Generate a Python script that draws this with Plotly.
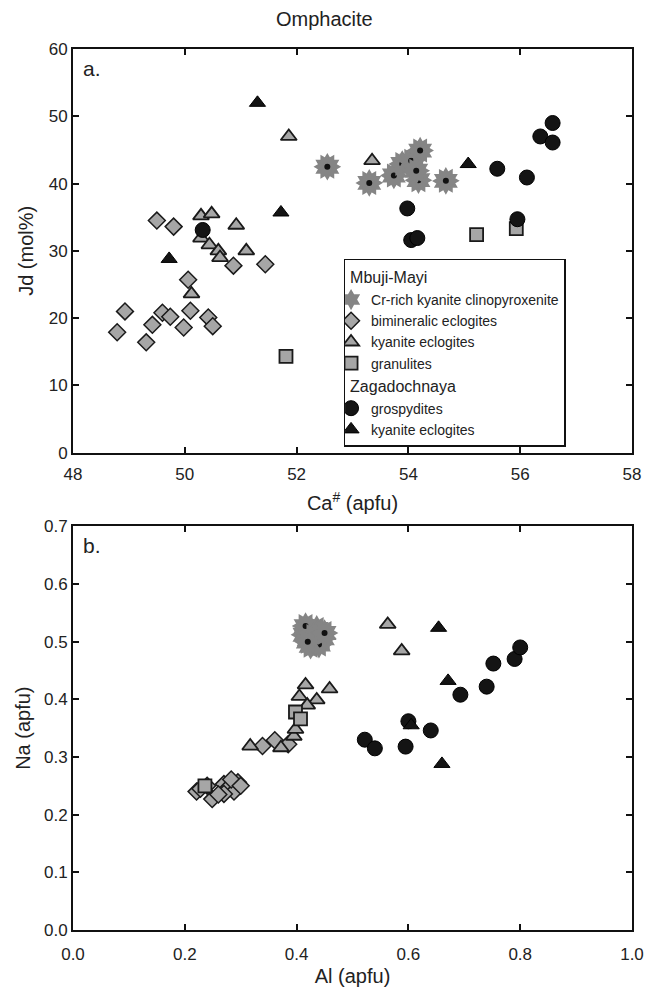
import plotly.graph_objects as go
from plotly.subplots import make_subplots

# ---------------- data: panel a (Ca#, Jd mol%) ----------------
cr_ca = [52.55, 53.30, 53.74, 53.89, 54.05, 54.21, 54.18, 54.14, 54.67]
cr_jd = [42.5, 40.1, 41.2, 42.9, 43.4, 44.9, 40.5, 41.9, 40.4]
bim_ca = [49.50, 49.80, 50.87, 51.44, 50.06, 48.93, 48.79, 49.31, 49.42, 49.60, 49.74, 49.98, 50.10, 50.42, 50.50]
bim_jd = [34.5, 33.6, 27.8, 28.0, 25.7, 21.0, 17.9, 16.4, 19.0, 20.8, 20.2, 18.6, 21.1, 20.1, 18.8]
kya_ca = [51.86, 53.35, 50.29, 50.48, 50.29, 50.44, 50.60, 50.63, 50.92, 51.10, 50.12]
kya_jd = [47.0, 43.4, 35.2, 35.5, 31.9, 30.9, 30.0, 29.0, 33.8, 30.0, 23.6]
gran_ca = [51.81, 55.22, 55.93]
gran_jd = [14.3, 32.4, 33.3]
grs_ca = [50.32, 53.98, 54.05, 54.16, 55.59, 55.95, 56.12, 56.36, 56.58, 56.58]
grs_jd = [33.1, 36.3, 31.6, 31.9, 42.2, 34.7, 40.9, 47.0, 49.0, 46.1]
zky_ca = [51.30, 51.72, 49.72, 55.07]
zky_jd = [52.0, 35.7, 28.8, 42.9]

# ---------------- data: panel b (Al, Na apfu) ----------------
cr_al = [0.414, 0.436, 0.447, 0.425, 0.416, 0.430, 0.440, 0.420, 0.450]
cr_na = [0.512, 0.522, 0.506, 0.493, 0.527, 0.510, 0.495, 0.500, 0.515]
bim_al = [0.339, 0.361, 0.385, 0.221, 0.249, 0.270, 0.274, 0.288, 0.295, 0.283, 0.270, 0.240, 0.228, 0.300, 0.260]
bim_na = [0.319, 0.329, 0.322, 0.240, 0.227, 0.253, 0.243, 0.240, 0.256, 0.261, 0.236, 0.250, 0.245, 0.250, 0.235]
kya_al = [0.563, 0.588, 0.317, 0.372, 0.395, 0.398, 0.416, 0.459, 0.405, 0.436, 0.419]
kya_na = [0.530, 0.484, 0.319, 0.316, 0.336, 0.348, 0.425, 0.418, 0.405, 0.399, 0.390]
gran_al = [0.236, 0.398, 0.407]
gran_na = [0.250, 0.378, 0.366]
grs_al = [0.522, 0.540, 0.595, 0.600, 0.640, 0.693, 0.740, 0.752, 0.790, 0.800]
grs_na = [0.330, 0.315, 0.318, 0.362, 0.346, 0.408, 0.422, 0.462, 0.470, 0.490]
zky_al = [0.654, 0.671, 0.660, 0.605]
zky_na = [0.524, 0.432, 0.288, 0.355]

GRAY = "#a6a6a6"
DARK = "#1a1a1a"
STAR = "#858585"
FONT = "Liberation Sans, Arial, sans-serif"

fig = make_subplots(rows=2, cols=1, vertical_spacing=0.0836)


def add_panel(row, cr, bim, kya, gran, grs, zky, legend):
    # Cr-rich: starburst (two rotated hexagrams) + black dot, drawn point by point
    for i in range(len(cr[0])):
        px, py = [cr[0][i]], [cr[1][i]]
        fig.add_trace(go.Scatter(x=px, y=py, mode="markers", name="Cr-rich kyanite clinopyroxenite",
                                 legendgroup="mm", legendgrouptitle_text="Mbuji-Mayi",
                                 showlegend=(legend and i == 0),
                                 marker=dict(symbol="hexagram", size=21, color=STAR, line=dict(width=0))),
                      row=row, col=1)
        fig.add_trace(go.Scatter(x=px, y=py, mode="markers", showlegend=False, legendgroup="mm",
                                 marker=dict(symbol="hexagram", size=21, angle=30, color=STAR,
                                             line=dict(width=0))),
                      row=row, col=1)
        fig.add_trace(go.Scatter(x=px, y=py, mode="markers", showlegend=False, legendgroup="mm",
                                 marker=dict(symbol="circle", size=6, color="#111111", line=dict(width=0))),
                      row=row, col=1)
    fig.add_trace(go.Scatter(x=bim[0], y=bim[1], mode="markers", name="bimineralic eclogites",
                             legendgroup="mm", showlegend=legend,
                             marker=dict(symbol="diamond", size=13, color=GRAY, line=dict(width=1.5, color=DARK))),
                  row=row, col=1)
    fig.add_trace(go.Scatter(x=kya[0], y=kya[1], mode="markers", name="kyanite eclogites",
                             legendgroup="mm", showlegend=legend,
                             marker=dict(symbol="triangle-up", size=14, color=GRAY, line=dict(width=1.8, color=DARK))),
                  row=row, col=1)
    fig.add_trace(go.Scatter(x=gran[0], y=gran[1], mode="markers", name="granulites",
                             legendgroup="mm", showlegend=legend,
                             marker=dict(symbol="square", size=13, color=GRAY, line=dict(width=1.8, color=DARK))),
                  row=row, col=1)
    fig.add_trace(go.Scatter(x=grs[0], y=grs[1], mode="markers", name="grospydites",
                             legendgroup="zg", legendgrouptitle_text="Zagadochnaya", showlegend=legend,
                             marker=dict(symbol="circle", size=15, color="#141414", line=dict(width=1, color="#000"))),
                  row=row, col=1)
    fig.add_trace(go.Scatter(x=zky[0], y=zky[1], mode="markers", name="kyanite eclogites",
                             legendgroup="zg", showlegend=legend,
                             marker=dict(symbol="triangle-up", size=14, color="#141414", line=dict(width=1, color="#000"))),
                  row=row, col=1)


add_panel(1, (cr_ca, cr_jd), (bim_ca, bim_jd), (kya_ca, kya_jd), (gran_ca, gran_jd),
          (grs_ca, grs_jd), (zky_ca, zky_jd), True)
add_panel(2, (cr_al, cr_na), (bim_al, bim_na), (kya_al, kya_na), (gran_al, gran_na),
          (grs_al, grs_na), (zky_al, zky_na), False)

axis_common = dict(showline=True, linewidth=2, linecolor="#111", mirror="allticks",
                   ticks="inside", ticklen=6, tickwidth=2, tickcolor="#111",
                   showgrid=False, zeroline=False,
                   tickfont=dict(size=17, color="#222", family=FONT),
                   title_font=dict(size=20, color="#222", family=FONT))

fig.update_xaxes(range=[48, 58], dtick=2, title_text="Ca<sup>#</sup> (apfu)", title_standoff=13,
                 ticklabelstandoff=5, row=1, col=1, **axis_common)
fig.update_yaxes(range=[0, 60], dtick=10, title_text="Jd (mol%)", title_standoff=10,
                 row=1, col=1, **axis_common)
fig.update_xaxes(range=[0, 1.0], dtick=0.2, tickformat=".1f", title_text="Al (apfu)", title_standoff=6,
                 ticklabelstandoff=8, row=2, col=1, **axis_common)
fig.update_yaxes(range=[0, 0.7], dtick=0.1, tickformat=".1f", title_text="Na (apfu)", title_standoff=8,
                 row=2, col=1, **axis_common)

fig.add_annotation(text="a.", xref="x domain", yref="y domain", x=0.015, y=0.985,
                   xanchor="left", yanchor="top", showarrow=False,
                   font=dict(size=21, color="#222", family=FONT))
fig.add_annotation(text="b.", xref="x2 domain", yref="y2 domain", x=0.015, y=0.985,
                   xanchor="left", yanchor="top", showarrow=False,
                   font=dict(size=21, color="#222", family=FONT))
fig.add_annotation(text="Omphacite", xref="paper", yref="paper", x=0.45, y=1.0,
                   yshift=30, xanchor="center", yanchor="middle", showarrow=False,
                   font=dict(size=20, color="#222", family=FONT))

fig.update_layout(
    width=656, height=996,
    margin=dict(l=73, r=17, t=49, b=61),
    paper_bgcolor="white", plot_bgcolor="white",
    font=dict(family=FONT, color="#222"),
    legend=dict(x=0.484, y=0.762, xanchor="left", yanchor="top",
                bgcolor="white", bordercolor="#111", borderwidth=1.5,
                font=dict(size=14, color="#222", family=FONT),
                grouptitlefont=dict(size=16, color="#222", family=FONT),
                traceorder="grouped", tracegroupgap=0, itemwidth=30,
                indentation=-14),
)

fig.write_html("out.html")
